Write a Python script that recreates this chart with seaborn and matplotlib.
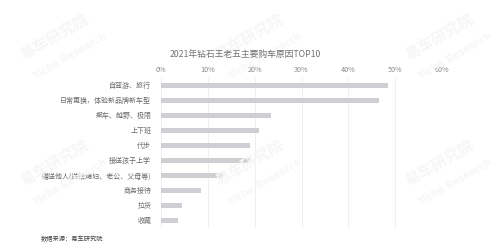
import matplotlib
matplotlib.use("Agg")
import matplotlib.pyplot as plt
import seaborn as sns
import pandas as pd

categories = ["自驾游、旅行", "日常更换，体验新品牌新车型", "飙车、越野、极限", "上下班", "代步",
              "接送孩子上学", "赠送他人(送给媳妇、老公、父母等)", "商务接待", "拉货", "收藏"]
values = [0.484, 0.465, 0.234, 0.209, 0.191, 0.190, 0.132, 0.085, 0.044, 0.036]
xticks = [0, 0.1, 0.2, 0.3, 0.4, 0.5, 0.6]
xtick_labels = ["0%", "10%", "20%", "30%", "40%", "50%", "60%"]
title = "2021年钻石王老五主要购车原因TOP10"
source = "数据来源：易车研究院"

sns.set_theme(style="white")
plt.rcParams['font.family'] = ['Noto Sans CJK SC', 'DejaVu Sans']

df = pd.DataFrame({"cat": categories, "val": values})

fig = plt.figure(figsize=(5.0, 2.46), dpi=100)
ax = fig.add_axes([0.322, 0.0732, 0.562, 0.610])

# faint watermarks
for (wx, wy) in [(0.11, 0.85), (0.50, 0.85), (0.88, 0.85), (0.11, 0.34), (0.50, 0.34), (0.88, 0.34)]:
    fig.text(wx, wy, "易车研究院", fontsize=11, fontweight="bold", color="#f6f6f6",
             rotation=30, ha="center", va="center", zorder=0)
    fig.text(wx + 0.03, wy - 0.08, "Yiche Research", fontsize=7, fontweight="bold", color="#f7f7f7",
             rotation=30, ha="center", va="center", zorder=0, family="DejaVu Sans")

sns.barplot(data=df, x="val", y="cat", color="#cdcfd2", width=0.36, ax=ax,
            saturation=1, edgecolor="none", zorder=3)
ax.patch.set_alpha(0)

ax.set_xlim(0, 0.6)
ax.set_ylim(9.5, -0.5)
ax.set_xticks(xticks)
ax.set_xticklabels(xtick_labels)
ax.xaxis.tick_top()
ax.tick_params(axis="x", length=0, pad=3, labelsize=5.2, labelcolor="#8a8a8a")
ax.tick_params(axis="y", length=0, pad=7, labelsize=5.0, labelcolor="#6a6a6a")
ax.set_xlabel("")
ax.set_ylabel("")
ax.grid(axis="x", color="#ececec", linewidth=0.6, zorder=0)
ax.grid(axis="y", visible=False)
for s in ax.spines.values():
    s.set_visible(False)

fig.text(0.49, 0.78, title, ha="center", va="center", fontsize=6.3, color="#707070")
fig.text(0.081, 0.028, source, ha="left", va="center", fontsize=4.5, color="#444444")

fig.savefig("out.png", dpi=100)
